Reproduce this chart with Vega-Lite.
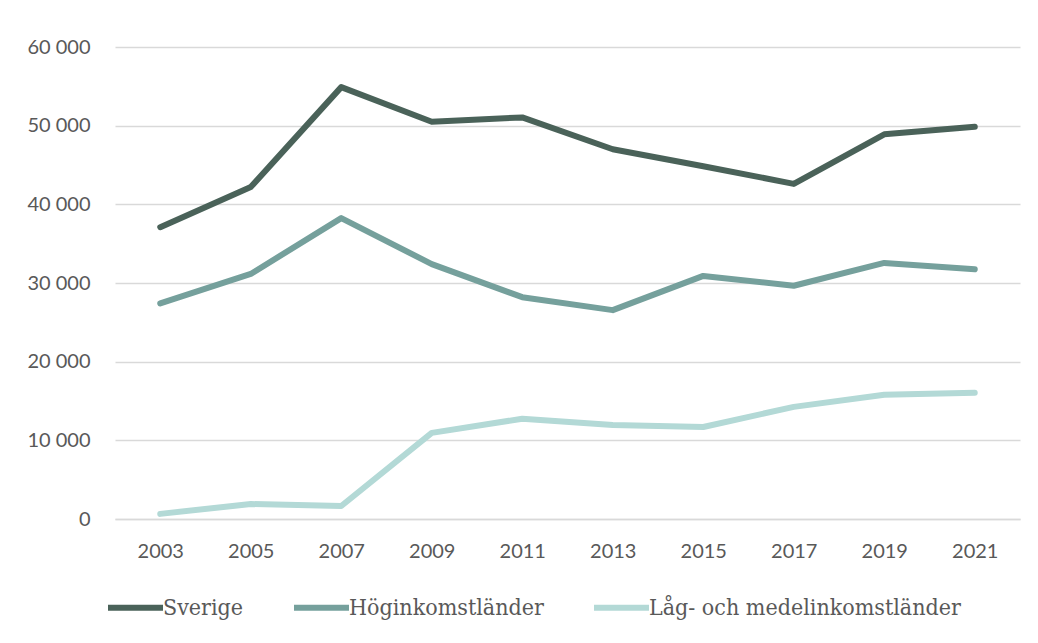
{
  "$schema": "https://vega.github.io/schema/vega-lite/v6.json",
  "width": 905,
  "height": 472,
  "autosize": {"type": "none"},
  "padding": {"left": 115, "top": 47, "right": 18, "bottom": 124},
  "background": "white",
  "config": {"view": {"stroke": null}},
  "data": {"values": [
    {"year": "2003", "series": "Sverige", "value": 37100},
    {"year": "2005", "series": "Sverige", "value": 42200},
    {"year": "2007", "series": "Sverige", "value": 54900},
    {"year": "2009", "series": "Sverige", "value": 50500},
    {"year": "2011", "series": "Sverige", "value": 51050},
    {"year": "2013", "series": "Sverige", "value": 47000},
    {"year": "2015", "series": "Sverige", "value": 44850},
    {"year": "2017", "series": "Sverige", "value": 42600},
    {"year": "2019", "series": "Sverige", "value": 48900},
    {"year": "2021", "series": "Sverige", "value": 49850},
    {"year": "2003", "series": "Höginkomstländer", "value": 27400},
    {"year": "2005", "series": "Höginkomstländer", "value": 31150},
    {"year": "2007", "series": "Höginkomstländer", "value": 38250},
    {"year": "2009", "series": "Höginkomstländer", "value": 32400},
    {"year": "2011", "series": "Höginkomstländer", "value": 28200},
    {"year": "2013", "series": "Höginkomstländer", "value": 26550},
    {"year": "2015", "series": "Höginkomstländer", "value": 30900},
    {"year": "2017", "series": "Höginkomstländer", "value": 29650},
    {"year": "2019", "series": "Höginkomstländer", "value": 32550},
    {"year": "2021", "series": "Höginkomstländer", "value": 31750},
    {"year": "2003", "series": "Låg- och medelinkomstländer", "value": 650},
    {"year": "2005", "series": "Låg- och medelinkomstländer", "value": 1900},
    {"year": "2007", "series": "Låg- och medelinkomstländer", "value": 1650},
    {"year": "2009", "series": "Låg- och medelinkomstländer", "value": 10950},
    {"year": "2011", "series": "Låg- och medelinkomstländer", "value": 12750},
    {"year": "2013", "series": "Låg- och medelinkomstländer", "value": 11950},
    {"year": "2015", "series": "Låg- och medelinkomstländer", "value": 11700},
    {"year": "2017", "series": "Låg- och medelinkomstländer", "value": 14250},
    {"year": "2019", "series": "Låg- och medelinkomstländer", "value": 15800},
    {"year": "2021", "series": "Låg- och medelinkomstländer", "value": 16050}
  ]},
  "mark": {"type": "line", "strokeWidth": 6, "strokeCap": "round", "strokeJoin": "round"},
  "encoding": {
    "x": {
      "field": "year", "type": "ordinal",
      "scale": {"type": "point", "padding": 0.5},
      "axis": {
        "title": null, "labelAngle": 0, "ticks": false, "grid": false,
        "domain": true, "domainColor": "#d9d9d9", "domainWidth": 1.3,
        "labelFont": "Lato", "labelFontSize": 20, "labelColor": "#595959",
        "labelPadding": 22, "labelBaseline": "top"
      }
    },
    "y": {
      "field": "value", "type": "quantitative",
      "scale": {"domain": [0, 60000], "nice": false},
      "axis": {
        "title": null, "domain": false, "ticks": false,
        "values": [0, 10000, 20000, 30000, 40000, 50000, 60000],
        "grid": true, "gridColor": "#d9d9d9", "gridWidth": 1.3,
        "labelExpr": "datum.value == 0 ? '0' : floor(datum.value / 1000) + ' 000'",
        "labelFont": "Lato", "labelFontSize": 20, "labelColor": "#595959",
        "labelPadding": 25
      }
    },
    "color": {
      "field": "series", "type": "nominal",
      "scale": {
        "domain": ["Sverige", "Höginkomstländer", "Låg- och medelinkomstländer"],
        "range": ["#4a6259", "#75a09c", "#b3d9d6"]
      },
      "legend": {
        "title": null, "orient": "none", "direction": "horizontal",
        "legendX": -10, "legendY": 530,
        "symbolType": "stroke", "symbolStrokeWidth": 6, "symbolSize": 3025,
        "labelFont": "DejaVu Serif Condensed", "labelFontSize": 23, "labelColor": "#595959",
        "labelOffset": -3, "columnPadding": 38, "labelLimit": 0
      }
    }
  }
}
